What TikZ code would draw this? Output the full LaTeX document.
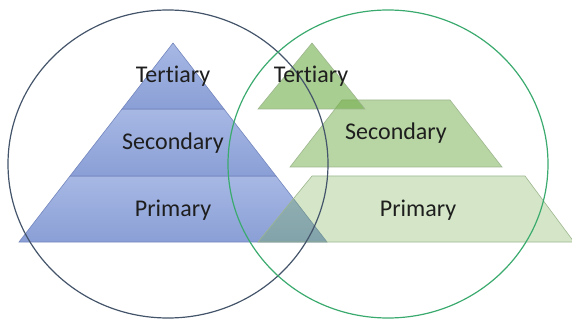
\documentclass[tikz,border=0pt]{standalone}
\usepackage{fontspec}
\setmainfont{Carlito}[Ligatures=NoCommon]
\definecolor{bluetop}{HTML}{A7B8E4}
\definecolor{bluebot}{HTML}{8A9FD6}
\definecolor{blueline}{HTML}{7487BE}
\definecolor{grn}{HTML}{70AD47}
\definecolor{greenline}{HTML}{9DB68E}
\definecolor{ringblue}{HTML}{44546A}
\definecolor{ringgreen}{HTML}{3AAA6E}
\definecolor{txt}{HTML}{1E1E1E}

\begin{document}
\begin{tikzpicture}[x=1pt,y=-1pt,
  blue band/.style={draw=blueline,line width=0.6pt,top color=bluetop,bottom color=bluebot},
  green band/.style={draw=greenline,line width=0.6pt,fill=grn},
  ring/.style={line width=1.2pt},
  level/.style={font=\fontsize{24}{28}\selectfont,text=txt,inner sep=0pt,anchor=base}]
\useasboundingbox (0,0) rectangle (572,320);
% blue pyramid
\draw[blue band] (19,242) -- (70,176) -- (276,176) -- (327,242) -- cycle;
\draw[blue band] (70,176) -- (122,109) -- (224,109) -- (276,176) -- cycle;
\draw[blue band] (122,109) -- (173,43) -- (224,109) -- cycle;
% green levels, pulled apart
\draw[green band,fill opacity=0.3] (258,242) -- (312,176) -- (525,176) -- (574,242) -- cycle;
\draw[green band,fill opacity=0.5] (290,167) -- (342,100) -- (450,100) -- (502,167) -- cycle;
\draw[green band,fill opacity=0.6] (258,109) -- (312,43) -- (365,109) -- cycle;
% rings
\draw[ring,ringblue] (168,164) ellipse [x radius=160,y radius=154];
\draw[ring,ringgreen] (388,164) ellipse [x radius=160,y radius=154];
% labels
\node[level] (bt) at (173,83) {Tertiary};
\node[level] (bs) at (173,150) {Secondary};
\node[level] (bp) at (173,217) {Primary};
\node[level] (gt) at (311,83) {Tertiary};
\node[level] (gs) at (396,140) {Secondary};
\node[level] (gp) at (418,217) {Primary};
\end{tikzpicture}
\end{document}
